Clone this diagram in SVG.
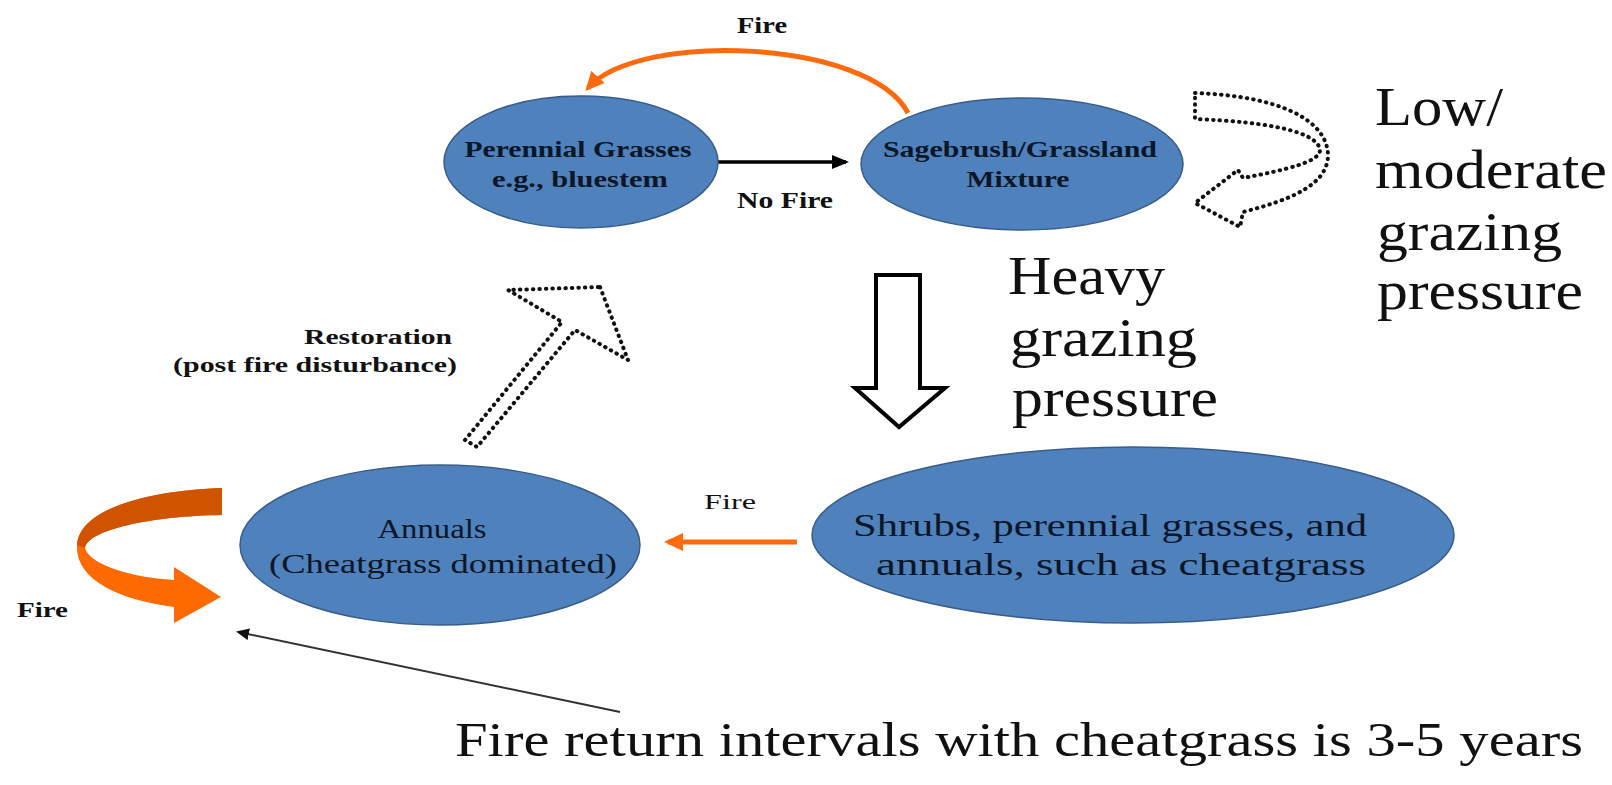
<svg xmlns="http://www.w3.org/2000/svg" width="1612" height="785" viewBox="0 0 1612 785">
<style>
.node{fill:#4F81BD;stroke:#385D8A;stroke-width:1.5}
text{font-family:'Liberation Serif',serif;fill:#111}
.b{font-weight:bold}
.in{fill:#0b1626}
.dot{fill:none;stroke:#111;stroke-width:4;stroke-dasharray:0.5 6;stroke-linecap:round;stroke-linejoin:round}
.orange{fill:none;stroke:#FF6A0D;stroke-width:5}
</style>
<defs>
<marker id="ahBlack" markerUnits="userSpaceOnUse" markerWidth="18" markerHeight="16" refX="14" refY="8" orient="auto">
<path d="M0,1 L17,8 L0,15 z" fill="#000"/>
</marker>
<marker id="ahOrange" markerUnits="userSpaceOnUse" markerWidth="20" markerHeight="18" refX="15" refY="9" orient="auto">
<path d="M0,0 L19,9 L0,18 z" fill="#FF6A0D"/>
</marker>
<marker id="ahThin" markerUnits="userSpaceOnUse" markerWidth="14" markerHeight="12" refX="11" refY="6" orient="auto">
<path d="M0,0 L13,6 L0,12 z" fill="#111"/>
</marker>
</defs>
<rect width="1612" height="785" fill="#fff"/>

<g id="connectors">
<line x1="718" y1="162" x2="846" y2="162" stroke="#000" stroke-width="3.5" marker-end="url(#ahBlack)"/>
<path class="orange" d="M908,113 C870,40 640,30 588,88" marker-end="url(#ahOrange)"/>
<line class="orange" x1="797" y1="542" x2="668" y2="542" marker-end="url(#ahOrange)"/>
<line x1="620" y1="712" x2="238" y2="632" stroke="#333" stroke-width="2" marker-end="url(#ahThin)"/>
<polygon id="heavy-arrow" points="876,275 920,275 920,388 945,388 899,427 855,388 876,388" fill="#fff" stroke="#000" stroke-width="4" stroke-linejoin="miter"/>
<polygon id="restoration-arrow" class="dot" points="600,287 628,360 575,330 477,447 465,440 562,322 508,290"/>
<path id="low-arrow" class="dot" d="M1195,93 C1280,96 1327,120 1328,155 C1328,185 1290,200 1243,212 L1240,227 L1195,203 L1238,170 L1243,178 C1285,170 1320,162 1320,150 C1318,132 1270,122 1195,119 Z"/>
<g id="fire-loop">
<path d="M222,488 C160,490 80,505 77,545 C75,580 120,600 174,607 L174,623 L221,597 L174,567 L174,580 C130,577 90,565 85,548 C88,530 150,516 222,515 Z" fill="#FF6A00"/>
<path d="M222,488 C160,490 80,505 77,545 L85,548 C88,530 150,516 222,515 Z" fill="#D05400"/>
</g>
</g>

<g id="node-perennial">
<ellipse class="node" cx="581" cy="162" rx="137" ry="66"/>
<text class="b in" x="578" y="157" font-size="24" text-anchor="middle" textLength="227" lengthAdjust="spacingAndGlyphs">Perennial Grasses</text>
<text class="b in" x="580" y="187" font-size="24" text-anchor="middle" textLength="176" lengthAdjust="spacingAndGlyphs">e.g., bluestem</text>
</g>

<g id="node-sagebrush">
<ellipse class="node" cx="1022" cy="164" rx="161" ry="66"/>
<text class="b in" x="1020" y="157" font-size="24" text-anchor="middle" textLength="274" lengthAdjust="spacingAndGlyphs">Sagebrush/Grassland</text>
<text class="b in" x="1018" y="187" font-size="24" text-anchor="middle" textLength="103" lengthAdjust="spacingAndGlyphs">Mixture</text>
</g>

<g id="node-annuals">
<ellipse class="node" cx="440" cy="545" rx="200" ry="80"/>
<text class="in" x="432" y="538" font-size="28" text-anchor="middle" textLength="109" lengthAdjust="spacingAndGlyphs">Annuals</text>
<text class="in" x="443" y="573" font-size="28" text-anchor="middle" textLength="348" lengthAdjust="spacingAndGlyphs">(Cheatgrass dominated)</text>
</g>

<g id="node-shrubs">
<ellipse class="node" cx="1133" cy="535" rx="321" ry="88"/>
<text class="in" x="853" y="536" font-size="32" textLength="514" lengthAdjust="spacingAndGlyphs">Shrubs, perennial grasses, and</text>
<text class="in" x="876" y="575" font-size="32" textLength="490" lengthAdjust="spacingAndGlyphs">annuals, such as cheatgrass</text>
</g>

<g id="labels">
<text class="b" x="762" y="33" font-size="24" text-anchor="middle" textLength="50" lengthAdjust="spacingAndGlyphs">Fire</text>
<text class="b" x="785" y="208" font-size="24" text-anchor="middle" textLength="96" lengthAdjust="spacingAndGlyphs">No Fire</text>
<text x="730" y="509" font-size="22" text-anchor="middle" textLength="52" lengthAdjust="spacingAndGlyphs">Fire</text>
<text class="b" x="17" y="617" font-size="20" textLength="51" lengthAdjust="spacingAndGlyphs">Fire</text>
<text class="b" x="452" y="344" font-size="20" text-anchor="end" textLength="148" lengthAdjust="spacingAndGlyphs">Restoration</text>
<text class="b" x="457" y="372" font-size="20" text-anchor="end" textLength="284" lengthAdjust="spacingAndGlyphs">(post fire disturbance)</text>
<text x="1008" y="294" font-size="54" textLength="157" lengthAdjust="spacingAndGlyphs">Heavy</text>
<text x="1010" y="356" font-size="54" textLength="187" lengthAdjust="spacingAndGlyphs">grazing</text>
<text x="1012" y="416" font-size="54" textLength="206" lengthAdjust="spacingAndGlyphs">pressure</text>
<text x="1375" y="125" font-size="54" textLength="128" lengthAdjust="spacingAndGlyphs">Low/</text>
<text x="1375" y="188" font-size="54" textLength="232" lengthAdjust="spacingAndGlyphs">moderate</text>
<text x="1377" y="250" font-size="54" textLength="185" lengthAdjust="spacingAndGlyphs">grazing</text>
<text x="1377" y="309" font-size="54" textLength="206" lengthAdjust="spacingAndGlyphs">pressure</text>
<text x="455" y="756" font-size="48" textLength="1128" lengthAdjust="spacingAndGlyphs">Fire return intervals with cheatgrass is 3-5 years</text>
</g>
</svg>
